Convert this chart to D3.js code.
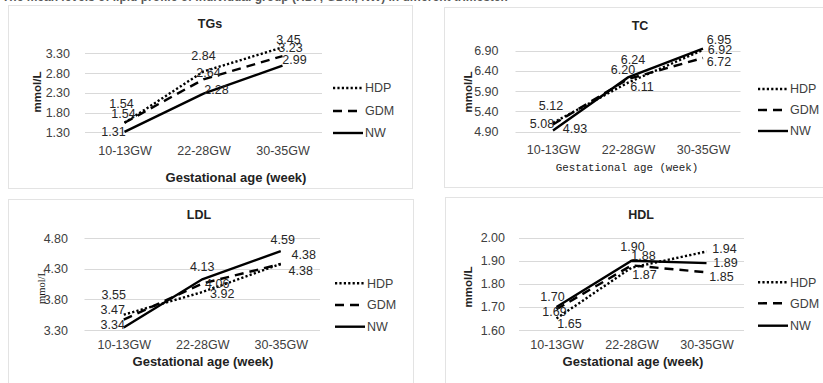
<!DOCTYPE html>
<html>
<head>
<meta charset="utf-8">
<script src="https://cdn.jsdelivr.net/npm/d3@7"></script>
<style>
  body { margin: 0; background: #fff; }
  svg { display: block; font-family: "Liberation Sans", Arial, sans-serif; }
</style>
</head>
<body>
<svg id="chart" width="823" height="383"></svg>
<script>
const categories = ['10-13GW', '22-28GW', '30-35GW'];
const seriesNames = ['HDP', 'GDM', 'NW'];

const tgsHDP = [1.54, 2.84, 3.45];
const tgsGDM = [1.54, 2.64, 3.23];
const tgsNW = [1.31, 2.28, 2.99];
const tgsTicks = [1.30, 1.80, 2.30, 2.80, 3.30];

const tcHDP = [5.12, 6.11, 6.92];
const tcGDM = [5.08, 6.20, 6.72];
const tcNW = [4.93, 6.24, 6.95];
const tcTicks = [4.90, 5.40, 5.90, 6.40, 6.90];

const ldlHDP = [3.55, 3.92, 4.38];
const ldlGDM = [3.47, 4.06, 4.38];
const ldlNW = [3.34, 4.13, 4.59];
const ldlTicks = [3.30, 3.80, 4.30, 4.80];

const hdlHDP = [1.65, 1.87, 1.94];
const hdlGDM = [1.69, 1.88, 1.85];
const hdlNW = [1.70, 1.90, 1.89];
const hdlTicks = [1.60, 1.70, 1.80, 1.90, 2.00];

const pageTitle = 'The mean levels of lipid profile of individual group (HDP, GDM, NW) in different trimester.';

// layout of each panel (pixels), kept apart from the data
const panels = [
  {
    title: 'TGs', values: [tgsHDP, tgsGDM, tgsNW], ticks: tgsTicks,
    box: [8, 5, 404, 183], x: [85, 322], y: [132.3, 53.3],
    titleAt: [210, 23.5], xTitleAt: [236, 177], yTitleAt: [37, 92],
    catPad: 13.5, tickPad: 15, legendX: 333, legendY: [88, 111, 133],
    labelOffsets: [
      [[-3, -19], [0, -16], [6, -8]],
      [[-1, -9], [5, -7], [8, -8]],
      [[-11, 0], [13, -4], [12, -6]]
    ]
  },
  {
    title: 'TC', values: [tcHDP, tcGDM, tcNW], ticks: tcTicks,
    box: [444, 7, 400, 180], x: [515.5, 740.5], y: [131.7, 50.7],
    titleAt: [640, 25.5], xTitleAt: [627, 167], yTitleAt: [468, 92],
    xTitleSerif: true,
    catPad: 13.5, tickPad: 17, legendX: 758, legendY: [89, 110, 131],
    labelOffsets: [
      [[-2, -17], [14, 4], [17, 0]],
      [[-11, -1], [-5, -9], [16, 4]],
      [[22, -2], [5, -18], [16, -9]]
    ]
  },
  {
    title: 'LDL', values: [ldlHDP, ldlGDM, ldlNW], ticks: ldlTicks,
    box: [8, 199, 405, 200], x: [84.5, 320], y: [330, 238.3],
    titleAt: [199, 215], xTitleAt: [203, 361.5], yTitleAt: [41, 287],
    yTitleSerif: true,
    catPad: 10.5, tickPad: 16.5, legendX: 335, legendY: [283.3, 305, 326.7],
    labelOffsets: [
      [[-10, -20], [20, 2], [20, 7]],
      [[-11, -10], [15, 0], [23, -9]],
      [[-11, -3], [0, -13], [2, -12]]
    ]
  },
  {
    title: 'HDL', values: [hdlHDP, hdlGDM, hdlNW], ticks: hdlTicks,
    box: [445, 197, 400, 200], x: [519, 744], y: [330, 237.7],
    titleAt: [641, 215], xTitleAt: [633, 361.5], yTitleAt: [468, 287],
    catPad: 10.5, tickPad: 14, legendX: 758, legendY: [282.3, 303.3, 325.7],
    labelOffsets: [
      [[13, 5], [13, 7], [18, -3]],
      [[-2, 2], [12, -10], [15, 4]],
      [[-4, -10], [1, -14], [19, 0]]
    ]
  }
];

const dashes = { HDP: '2.2 2.2', GDM: '9 6', NW: null };
const ink = '#000';
const textColor = '#404040';
const sansFont = '"Liberation Sans", Arial, sans-serif';
const monoFont = '"Liberation Mono", "DejaVu Sans Mono", monospace';
const serifFont = '"Liberation Serif", "DejaVu Serif", serif';

const svg = d3.select('#chart');

svg.append('text')
  .attr('x', 2)
  .attr('y', 0.5)
  .style('font-family', sansFont)
  .style('font-size', '12px')
  .style('font-weight', 'bold')
  .attr('fill', '#595959')
  .text(pageTitle);

function drawPanel(p) {
  const g = svg.append('g');

  g.append('rect')
    .attr('x', p.box[0] + 0.5).attr('y', p.box[1] + 0.5)
    .attr('width', p.box[2]).attr('height', p.box[3])
    .attr('fill', '#fff')
    .attr('stroke', '#e3e3e3');

  const x = d3.scalePoint().domain(categories).range(p.x).padding(0.5);
  const y = d3.scaleLinear()
    .domain([p.ticks[0], p.ticks[p.ticks.length - 1]])
    .range(p.y);

  // gridlines
  g.append('g')
    .selectAll('line')
    .data(p.ticks)
    .join('line')
    .attr('x1', p.x[0]).attr('x2', p.x[1])
    .attr('y1', d => Math.round(y(d)) + 0.5)
    .attr('y2', d => Math.round(y(d)) + 0.5)
    .attr('stroke', '#d9d9d9');

  const yAxis = g.append('g')
    .attr('transform', `translate(${p.x[0]},0)`)
    .call(d3.axisLeft(y).tickValues(p.ticks).tickFormat(d3.format('.2f'))
      .tickSize(0).tickPadding(p.tickPad));
  yAxis.select('.domain').remove();
  yAxis.selectAll('text')
    .style('font-family', sansFont)
    .style('font-size', '12.5px')
    .attr('fill', textColor);

  const xAxis = g.append('g')
    .attr('transform', `translate(0,${p.y[0]})`)
    .call(d3.axisBottom(x).tickSize(0).tickPadding(p.catPad));
  xAxis.select('.domain').remove();
  xAxis.selectAll('text')
    .style('font-family', sansFont)
    .style('font-size', '12.5px')
    .attr('fill', textColor);

  // titles
  g.append('text')
    .attr('x', p.titleAt[0]).attr('y', p.titleAt[1])
    .attr('dy', '0.35em')
    .attr('text-anchor', 'middle')
    .style('font-family', sansFont)
    .style('font-size', '12.5px')
    .style('font-weight', 'bold')
    .attr('fill', '#222')
    .text(p.title);

  const xt = g.append('text')
    .attr('x', p.xTitleAt[0]).attr('y', p.xTitleAt[1])
    .attr('dy', '0.35em')
    .attr('text-anchor', 'middle')
    .attr('fill', '#222')
    .text('Gestational age (week)');
  if (p.xTitleSerif) {
    xt.style('font-family', monoFont).style('font-size', '10.8px');
  } else {
    xt.style('font-family', sansFont).style('font-size', '13px').style('font-weight', 'bold');
  }

  const yt = g.append('text')
    .attr('transform', `translate(${p.yTitleAt[0]},${p.yTitleAt[1]}) rotate(-90)`)
    .attr('dy', '0.35em')
    .attr('text-anchor', 'middle')
    .attr('fill', '#222')
    .text('mmol/L');
  if (p.yTitleSerif) {
    yt.attr('fill', '#111').style('font-family', serifFont).style('font-size', '10.5px');
  } else {
    yt.style('font-family', sansFont).style('font-size', '11.5px').style('font-weight', 'bold');
  }

  // lines
  const line = d3.line()
    .x((d, i) => x(categories[i]))
    .y(d => y(d));

  seriesNames.forEach((name, si) => {
    g.append('path')
      .datum(p.values[si])
      .attr('d', line)
      .attr('fill', 'none')
      .attr('stroke', ink)
      .attr('stroke-width', 2.4)
      .attr('stroke-dasharray', dashes[name]);
  });

  // data labels
  seriesNames.forEach((name, si) => {
    g.append('g')
      .selectAll('text')
      .data(p.values[si])
      .join('text')
      .attr('x', (d, i) => x(categories[i]) + p.labelOffsets[si][i][0])
      .attr('y', (d, i) => y(d) + p.labelOffsets[si][i][1])
      .attr('dy', '0.35em')
      .attr('text-anchor', 'middle')
      .style('font-family', sansFont)
      .style('font-size', '12.5px')
      .attr('fill', '#262626')
      .text(d => d.toFixed(2));
  });

  // legend
  seriesNames.forEach((name, si) => {
    const ly = p.legendY[si];
    g.append('line')
      .attr('x1', p.legendX).attr('x2', p.legendX + 30)
      .attr('y1', ly).attr('y2', ly)
      .attr('stroke', ink)
      .attr('stroke-width', 2.4)
      .attr('stroke-dasharray', dashes[name]);
    g.append('text')
      .attr('x', p.legendX + 32).attr('y', ly)
      .attr('dy', '0.35em')
      .style('font-family', sansFont)
      .style('font-size', '12.5px')
      .attr('fill', textColor)
      .text(name);
  });
}

panels.forEach(drawPanel);
</script>
</body>
</html>
